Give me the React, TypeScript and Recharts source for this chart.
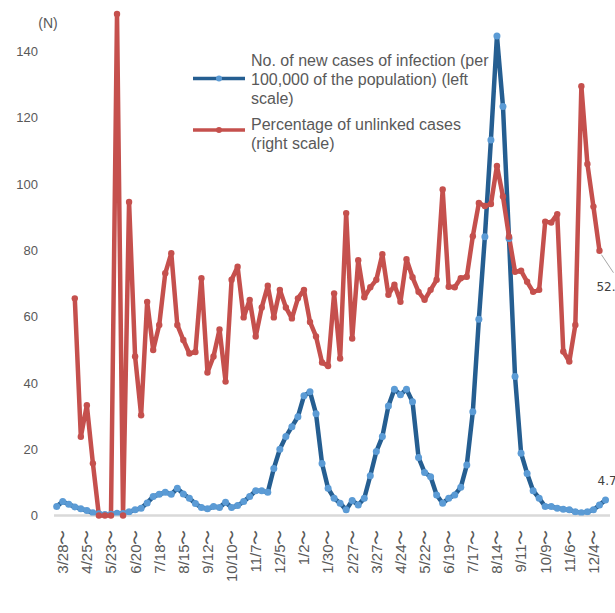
import { LineChart, Line, XAxis, YAxis, Legend, LabelList } from "recharts";

// weekly points, first one is the week before 3/28
const tickLabels = [
  "3/28〜", "4/25〜", "5/23〜", "6/20〜", "7/18〜", "8/15〜", "9/12〜", "10/10〜",
  "11/7〜", "12/5〜", "1/2〜", "1/30〜", "2/27〜", "3/27〜", "4/24〜", "5/22〜",
  "6/19〜", "7/17〜", "8/14〜", "9/11〜", "10/9〜", "11/6〜", "12/4〜",
];

// new cases per 100,000 (left scale)
const cases = [
  2.7, 4.2, 3.4, 2.6, 2.0, 1.5, 0.8, 0.5, 0.3, 0.4,
  0.7, 0.6, 1.1, 1.7, 2.2, 3.8, 5.7, 6.4, 7.0, 6.4,
  8.2, 6.5, 5.2, 3.6, 2.4, 2.0, 2.7, 2.4, 4.0, 2.4,
  3.0, 4.2, 5.7, 7.5, 7.5, 7.0, 14.2, 20.0, 23.8, 26.8,
  29.8, 36.1, 37.3, 30.7, 15.7, 8.2, 5.2, 3.7, 1.7, 4.5,
  3.2, 5.2, 12.0, 19.3, 23.8, 33.0, 38.1, 36.4, 38.1, 34.3,
  17.5, 13.0, 11.7, 6.2, 3.7, 5.2, 6.2, 8.5, 15.2, 31.3,
  59.2, 84.1, 113.3, 144.7, 123.4, 83.6, 41.9, 18.8, 12.7, 7.5,
  5.2, 2.7, 2.7, 2.2, 1.9, 1.7, 1.1, 0.8, 1.1, 1.7,
  3.2, 4.7,
];

// unlinked cases, % (right scale)
const unlinked = [
  null, null, null, 43.3, 15.7, 22.0, 10.4, 0, 0, 0,
  100, 0, 62.5, 31.7, 20.0, 42.6, 33.0, 38.0, 48.3, 52.3,
  38.0, 35.0, 32.3, 32.6, 47.3, 28.5, 31.7, 37.1, 26.7, 47.0,
  49.6, 39.5, 43.0, 35.7, 41.5, 45.8, 39.5, 45.0, 41.5, 39.3,
  43.3, 45.0, 38.6, 35.7, 30.5, 29.8, 44.3, 31.3, 60.3, 35.3,
  50.9, 43.5, 45.5, 47.0, 52.1, 44.0, 46.0, 42.6, 51.1, 47.5,
  44.6, 43.0, 45.0, 47.0, 65.0, 45.6, 45.5, 47.3, 47.6, 55.7,
  62.3, 61.7, 62.1, 69.7, 63.6, 55.6, 48.6, 48.8, 46.6, 44.6,
  45.0, 58.6, 58.4, 60.1, 32.7, 30.7, 38.0, 85.6, 70.1, 61.6,
  52.8, null,
];

const leftTicks = [0, 20, 40, 60, 80, 100, 120, 140];

const data = cases.map((c, i) => ({ week: i, cases: c, unlinked: unlinked[i] }));
const weekTicks = tickLabels.map((_, k) => 1 + 4 * k);

const FONT = "'Liberation Sans', Arial, sans-serif";
const TEXT = "#595959";
const BLUE_LINE = "#255e91";
const BLUE_DOT = "#5b9bd5";
const RED = "#c5504d";

const seriesStyle: Record<string, { line: string; dot: string; markerY: number }> = {
  cases: { line: BLUE_LINE, dot: BLUE_DOT, markerY: 27.5 },
  unlinked: { line: RED, dot: RED, markerY: 15 },
};

function WeekTick({ x, y, payload }: any) {
  const label = tickLabels[(payload.value - 1) / 4];
  return (
    <g transform={`translate(${x},${y})`}>
      <text
        transform="rotate(-90)"
        x={-14}
        y={0}
        dy="0.36em"
        textAnchor="end"
        fill={TEXT}
        fontSize={15}
        fontFamily={FONT}
      >
        {label}
      </text>
    </g>
  );
}

function renderLegend(props: any) {
  const { payload } = props;
  return (
    <div style={{ fontFamily: FONT, fontSize: 16, lineHeight: "19px", color: TEXT }}>
      {payload.map((entry: any) => {
        const st = seriesStyle[entry.dataKey];
        return (
          <div key={entry.dataKey} style={{ display: "flex", marginBottom: 7 }}>
            <svg width={52} height={40} style={{ flex: "none" }}>
              <line x1={0} x2={52} y1={st.markerY} y2={st.markerY} stroke={st.line} strokeWidth={3.5} />
              <circle cx={26} cy={st.markerY} r={3} fill={st.dot} />
            </svg>
            <div style={{ marginLeft: 6, whiteSpace: "pre-line" }}>{entry.value}</div>
          </div>
        );
      })}
    </div>
  );
}

function CasesEnd(props: any) {
  const { x, y, index, value } = props;
  if (index !== cases.length - 1) return null;
  return (
    <text x={x - 8} y={y - 15} fontSize={12} fill="#404040" fontFamily="'DejaVu Sans', sans-serif">
      {value}
    </text>
  );
}

function UnlinkedEnd(props: any) {
  const { x, y, index, value } = props;
  if (value == null || index !== unlinked.length - 2) return null;
  return (
    <g>
      <line x1={x + 2} y1={y + 4} x2={x + 14} y2={y + 22} stroke="#a6a6a6" strokeWidth={1} />
      <text x={x - 3} y={y + 40} fontSize={12} fill="#404040" fontFamily="'DejaVu Sans', sans-serif">
        {value}
      </text>
    </g>
  );
}

export default function App() {
  return (
    <div
      style={{
        position: "absolute",
        left: 0,
        top: 0,
        width: 615,
        height: 613,
        overflow: "hidden",
        background: "#fff",
      }}
    >
      <LineChart width={615} height={613} data={data} margin={{ top: 14, right: 5, bottom: 0, left: 0 }}>
        <XAxis
          dataKey="week"
          type="number"
          domain={[0, 91]}
          ticks={weekTicks}
          interval={0}
          padding={{ left: 2.7, right: 4.5 }}
          height={97.5}
          tickLine={false}
          tickSize={0}
          tickMargin={0}
          axisLine={{ stroke: "#d9d9d9", strokeWidth: 2.5 }}
          tick={<WeekTick />}
        />
        <YAxis
          yAxisId="left"
          width={54}
          domain={[0, 151.3]}
          ticks={leftTicks}
          allowDataOverflow
          axisLine={false}
          tickLine={false}
          tickSize={0}
          tickMargin={16}
          tick={{ fill: TEXT, fontSize: 13, fontFamily: FONT }}
          label={{
            value: "(N)",
            position: "insideTop",
            dx: 21,
            dy: -1,
            fill: TEXT,
            fontSize: 14,
            fontFamily: FONT,
          }}
        />
        <YAxis yAxisId="right" orientation="right" domain={[0, 100]} hide />
        <Legend
          layout="vertical"
          align="center"
          verticalAlign="middle"
          content={renderLegend}
          wrapperStyle={{ left: 193, top: 50.5, width: 340 }}
        />
        <Line
          yAxisId="left"
          dataKey="cases"
          name={"No. of new cases of infection (per\n100,000 of the population) (left\nscale)"}
          type="linear"
          stroke={BLUE_LINE}
          strokeWidth={4.5}
          strokeLinejoin="round"
          dot={{ r: 3.5, fill: BLUE_DOT, stroke: "none" }}
          isAnimationActive={false}
        >
          <LabelList dataKey="cases" content={<CasesEnd />} />
        </Line>
        <Line
          yAxisId="right"
          dataKey="unlinked"
          name={"Percentage of unlinked cases\n(right scale)"}
          type="linear"
          stroke={RED}
          strokeWidth={4.5}
          strokeLinejoin="round"
          dot={{ r: 3.2, fill: RED, stroke: "none" }}
          isAnimationActive={false}
        >
          <LabelList dataKey="unlinked" content={<UnlinkedEnd />} />
        </Line>
      </LineChart>
    </div>
  );
}
